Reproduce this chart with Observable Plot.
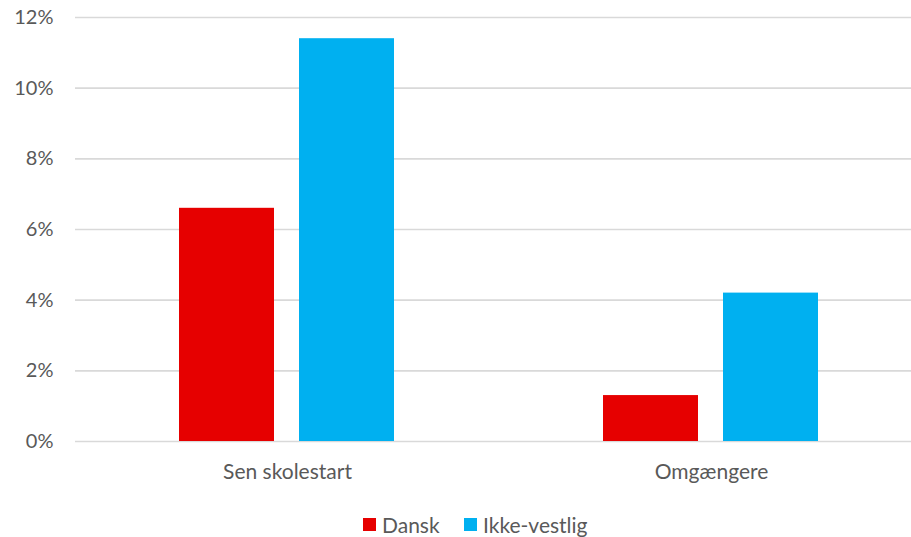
<!DOCTYPE html>
<html>
<head>
<meta charset="utf-8">
<script src="https://cdn.jsdelivr.net/npm/d3@7"></script>
<script src="https://cdn.jsdelivr.net/npm/@observablehq/plot@0.6"></script>
<style>
  html, body { margin: 0; padding: 0; background: #fff; overflow: hidden; }
  body { width: 911px; height: 537px; font-family: Lato, "Open Sans", sans-serif; }
  #legend { position: relative; height: 37px; font-size: 21px; color: #595959; }
  .item { position: absolute; top: 6px; display: flex; align-items: center; height: 37px; }
  .sw { width: 13px; height: 13px; margin-right: 6px; }
</style>
</head>
<body>
<div id="chart"></div>
<div id="legend"></div>
<script>
const categories = ["Sen skolestart", "Omgængere"];
const series = ["Dansk", "Ikke-vestlig"];
const dansk = [0.066, 0.013];
const ikkeVestlig = [0.114, 0.042];
const yTicks = [0, 0.02, 0.04, 0.06, 0.08, 0.10, 0.12];
const colors = ["#E60000", "#00B0F0"];

const data = [];
categories.forEach((c, i) => {
  data.push({category: c, series: series[0], value: dansk[i]});
  data.push({category: c, series: series[1], value: ikkeVestlig[i]});
});

const chart = Plot.plot({
  width: 911,
  height: 500,
  marginLeft: 74,
  marginRight: 0,
  marginTop: 17,
  marginBottom: 59,
  style: {fontFamily: "Lato, 'Open Sans', sans-serif", fontSize: "20px", color: "#595959", background: "#fff"},
  fx: {domain: categories, range: [74, 923], paddingInner: 0, paddingOuter: 0, label: null},
  x: {domain: series, paddingInner: 0.207, paddingOuter: 0.858, axis: null},
  y: {domain: [0, 0.12], label: null},
  color: {domain: series, range: colors},
  marks: [
    Plot.ruleY(yTicks, {stroke: "#d9d9d9", strokeWidth: 1.6}),
    Plot.barY(data, {fx: "category", x: "series", y: "value", fill: "series"}),
    Plot.axisY({ticks: yTicks, tickFormat: d3.format(".0%"), tickSize: 0, tickPadding: 22, fontSize: 20, fill: "#595959", label: null}),
    Plot.axisFx({anchor: "bottom", tickSize: 0, tickPadding: 23, fontSize: 21, fill: "#595959", label: null})
  ]
});
document.getElementById("chart").appendChild(chart);

const legend = document.getElementById("legend");
const lefts = [363, 464];
series.forEach((s, i) => {
  const item = document.createElement("div");
  item.className = "item";
  item.style.left = lefts[i] + "px";
  const sw = document.createElement("span");
  sw.className = "sw";
  sw.style.background = colors[i];
  const t = document.createElement("span");
  t.textContent = s;
  item.appendChild(sw);
  item.appendChild(t);
  legend.appendChild(item);
});
</script>
</body>
</html>
